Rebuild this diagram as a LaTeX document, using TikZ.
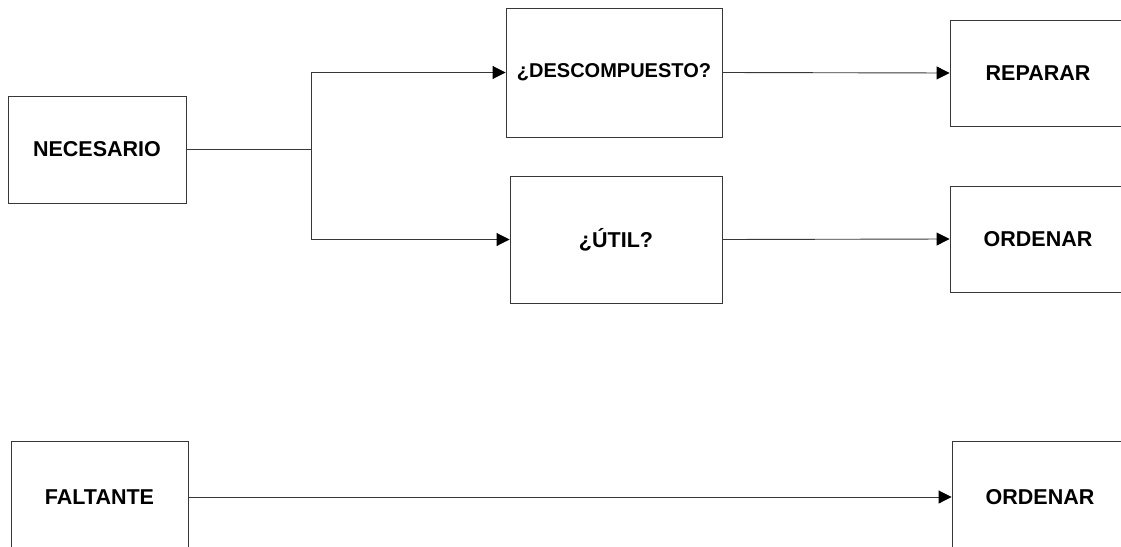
\documentclass[tikz,border=0pt]{standalone}
\usepackage{fontspec}
\setmainfont{Liberation Sans}
\usetikzlibrary{arrows.meta}
\definecolor{edge}{HTML}{383838}
\begin{document}
\begin{tikzpicture}[x=1pt,y=-1pt,
  box/.style={draw=edge,line width=0.9pt,rectangle,inner sep=0pt,font=\fontsize{21.5}{24}\selectfont\bfseries,text=black},
  conn/.style={draw=edge,line width=0.9pt},
  arr/.style={conn,-{Triangle[length=13pt,width=13pt,color=black,fill=black]}}]
\useasboundingbox (0,0) rectangle (1121,546);
\clip (0,0) rectangle (1121,546);
\node[box,minimum width=178pt,minimum height=107pt] (nec) at (97,149.5) {NECESARIO};
\node[box,minimum width=216pt,minimum height=129pt,font=\fontsize{20}{24}\selectfont\bfseries] (desc) at (614,72.5) {¿DESCOMPUESTO?};
\node[box,minimum width=212pt,minimum height=127pt] (util) at (616,239.5) {¿ÚTIL?};
\node[box,minimum width=176pt,minimum height=106pt] (rep) at (1038,73) {REPARAR};
\node[box,minimum width=176pt,minimum height=106pt] (ord1) at (1038,239) {ORDENAR};
\node[box,minimum width=177pt,minimum height=112pt] (falt) at (99.5,497) {FALTANTE};
\node[box,minimum width=176pt,minimum height=112pt] (ord2) at (1040,497) {ORDENAR};
\coordinate (split) at (311,149.5);
\draw[conn] (nec.east) -- (split);
\draw[arr] (split) |- (desc.west);
\draw[arr] (split) |- (util.west);
\draw[arr] (desc.east) -- (rep.west);
\draw[arr] (util.east) -- (ord1.west);
\draw[arr] (falt.east) -- (ord2.west);
\end{tikzpicture}
\end{document}
